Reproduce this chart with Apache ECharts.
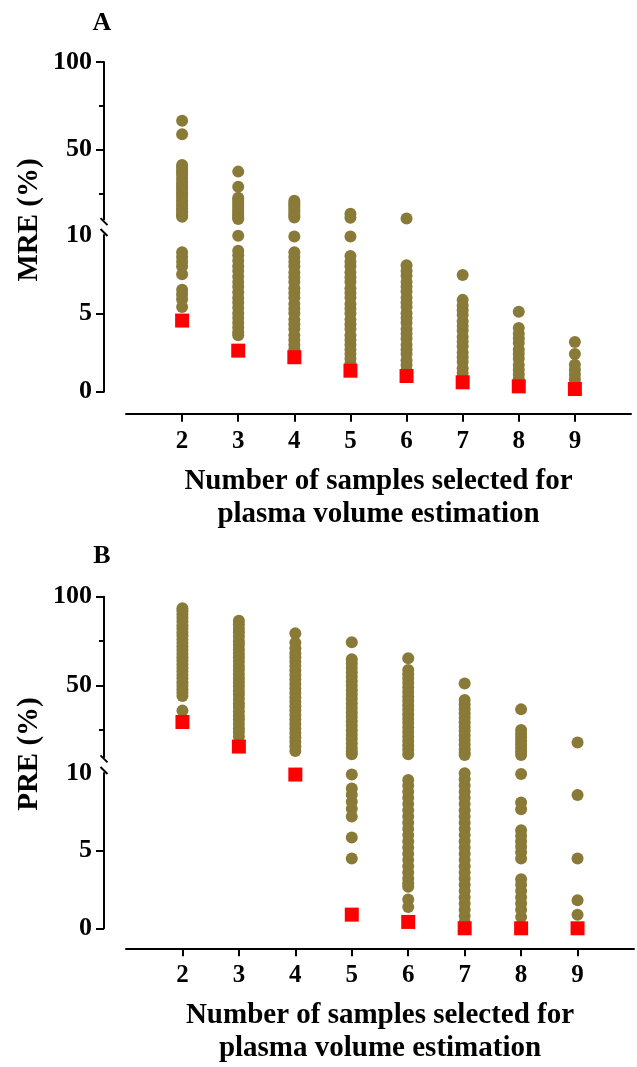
<!DOCTYPE html>
<html>
<head>
<meta charset="utf-8">
<style>
  html, body { margin: 0; padding: 0; background: #fff; }
  #chart { width: 637px; height: 1067px; }
</style>
<script src="https://cdn.jsdelivr.net/npm/echarts@6/dist/echarts.min.js"></script>
</head>
<body>
<div id="chart"></div>
<script>
  // number of samples on the x axis
  const categories = [2, 3, 4, 5, 6, 7, 8, 9]

  // panel A: MRE (%) of every sample combination, per number of samples
  const mre2 = [66.5, 58.7, 41.2, 40, 38.5, 37, 35.5, 33.5, 31.5, 30, 28.5, 27, 25.5, 24, 22.5, 21, 19.5, 18, 16.5, 15, 13.8, 12.5, 11.6, 8.9, 8.6, 8.3, 8.0, 7.5, 6.5, 6.2, 5.9, 5.4]
  const mre3 = [37.4, 28.8, 22.5, 21.3, 20, 18.6, 17.2, 15.8, 14.5, 13.2, 12, 11, 10.4, 9.95, 9.0, 8.7, 8.35, 8.0, 7.7, 7.35, 7.0, 6.7, 6.35, 6.0, 5.7, 5.35, 5.0, 4.7, 4.4, 4.1, 3.8, 3.6]
  const mre4 = [20.8, 19.4, 18, 16.6, 15.2, 13.8, 12.4, 11.2, 9.9, 8.9, 8.6, 8.3, 8.0, 7.6, 7.3, 7.0, 6.6, 6.3, 6.0, 5.6, 5.3, 5.0, 4.6, 4.3, 4.0, 3.6, 3.3, 3.0, 2.7, 2.45]
  const mre5 = [13.4, 11.0, 9.9, 8.66, 8.3, 8.0, 7.6, 7.3, 7.0, 6.6, 6.3, 6.0, 5.6, 5.3, 5.0, 4.6, 4.3, 4.0, 3.6, 3.3, 3.0, 2.7, 2.4, 2.1, 1.8, 1.55]
  const mre6 = [10.6, 8.07, 7.7, 7.4, 7.0, 6.7, 6.4, 6.0, 5.7, 5.4, 5.0, 4.7, 4.4, 4.0, 3.7, 3.4, 3.0, 2.7, 2.4, 2.0, 1.7, 1.35]
  const mre7 = [7.45, 5.86, 5.5, 5.2, 4.9, 4.5, 4.2, 3.9, 3.5, 3.2, 2.9, 2.5, 2.2, 1.9, 1.5, 1.2, 0.9]
  const mre8 = [5.1, 4.06, 3.7, 3.4, 3.1, 2.7, 2.4, 2.1, 1.7, 1.4, 1.1, 0.8, 0.55]
  const mre9 = [3.17, 2.4, 1.72, 1.4, 1.1, 0.8, 0.5]
  // best combination (red squares)
  const mreBest = [4.54, 2.62, 2.2, 1.34, 1.0, 0.6, 0.34, 0.17]

  // panel B: PRE (%)
  const pre2 = [93.5, 92, 90, 88, 86, 84, 82, 80, 78, 76, 74, 72, 70, 68, 66, 64, 62, 60, 58, 56, 54, 52, 50, 48, 46, 44.2, 36]
  const pre3 = [86.5, 84.5, 82, 80, 77.5, 75, 73, 70.5, 68, 66, 63.5, 61, 59, 56.5, 54, 52, 49.5, 47, 45, 42.5, 40, 38, 35.5, 33, 31, 28.5, 26, 24, 21.5]
  const pre4 = [79.4, 74.2, 71, 68.2, 66, 63.5, 61, 58.5, 56, 53.5, 51, 48.5, 46, 43.5, 41, 38.5, 36, 33.5, 31, 28.5, 26, 23.5, 21, 18.5, 16, 13.3]
  const pre5 = [74.4, 64.8, 62.5, 60, 57.5, 55, 52.5, 50, 47.5, 45, 42.5, 40, 37.5, 35, 32.5, 30, 27.5, 25, 22.5, 20, 17.5, 15, 13, 11.5, 9.9, 9.0, 8.6, 8.15, 7.7, 7.2, 5.85, 4.5]
  const pre6 = [65.4, 58.8, 56.5, 54, 51.5, 49, 46.5, 44, 41.5, 39, 36.5, 34, 31.5, 29, 26.5, 24, 21.5, 19, 16.5, 14, 11.5, 9.55, 9.2, 8.8, 8.4, 8.0, 7.6, 7.2, 6.8, 6.4, 6.0, 5.6, 5.2, 4.8, 4.4, 4.0, 3.6, 3.2, 2.9, 2.67, 1.85, 1.37]
  const pre7 = [51.3, 42, 39.5, 37, 34.5, 32, 29.5, 27, 24.5, 22, 19.5, 17, 14.5, 12.5, 11.1, 9.98, 9.6, 9.2, 8.8, 8.4, 8.0, 7.6, 7.2, 6.8, 6.4, 6.0, 5.6, 5.2, 4.8, 4.4, 4.0, 3.6, 3.2, 2.8, 2.4, 2.0, 1.6, 1.2, 0.8, 0.4]
  const pre8 = [36.7, 25.1, 23, 21, 19, 17, 15, 13, 11.1, 9.93, 8.1, 7.66, 6.32, 5.95, 5.6, 5.25, 4.9, 4.5, 3.16, 2.8, 2.4, 2.0, 1.6, 1.2, 0.73]
  const pre9 = [18.1, 8.58, 4.5, 1.81, 0.88]
  const preBest = [29.6, 15.8, 9.9, 0.88, 0.41, 0, 0, 0]

  // axis break: upper segment 10-100, lower segment 0-10
  const upperTicks = [50, 100]
  const upperMinorTicks = [25, 75]
  const lowerTicks = [0, 5]
  const lowerLabels = [0, 5, 10]
  const BREAK = 10

  const FONT = '"Liberation Serif", "Times New Roman", serif'
  const DOT = '#8a7a38'
  const BEST = '#ff0000'
  const AXIS_X = 104
  const GRID_LEFT = 126

  // 面板布局
  const panels = [
    { letter: 'A', yName: 'MRE (%)', cols: [mre2, mre3, mre4, mre5, mre6, mre7, mre8, mre9], best: mreBest,
      top: 62, upperH: 157.6, lowerTop: 235, lowerH: 156.7, right: 6, xOffset: 22, letterY: 23.5, nameY: 220 },
    { letter: 'B', yName: 'PRE (%)', cols: [pre2, pre3, pre4, pre5, pre6, pre7, pre8, pre9], best: preBest,
      top: 596.7, upperH: 160.2, lowerTop: 773, lowerH: 155.3, right: 3, xOffset: 20, letterY: 556.5, nameY: 754 }
  ]

  const black = { color: '#000', width: 2 }
  const labelStyle = { color: '#000', fontFamily: FONT, fontWeight: 'bold' }

  const grid = []
  const xAxis = []
  const yAxis = []
  const series = []
  const graphic = []

  /** 拆分成上下两段 */
  const split = (list, upper) => {
    const out = []
    list.forEach((vals, i) => {
      const arr = Array.isArray(vals) ? vals : [vals]
      arr.forEach((v) => {
        if (upper ? v > BREAK : v <= BREAK) out.push([categories[i], v])
      })
    })
    return out
  }

  panels.forEach((p, i) => {
    grid.push({ left: GRID_LEFT, right: p.right, top: p.top, height: p.upperH })
    grid.push({ left: GRID_LEFT, right: p.right, top: p.lowerTop, height: p.lowerH })

    xAxis.push({ gridIndex: 2 * i, type: 'value', min: 1, max: 10, show: false })
    xAxis.push({
      gridIndex: 2 * i + 1,
      type: 'value',
      min: 1,
      max: 10,
      offset: p.xOffset,
      axisLine: { onZero: false, lineStyle: black },
      axisTick: { customValues: categories, length: 8, lineStyle: black },
      axisLabel: { customValues: categories, fontSize: 25, margin: 15, ...labelStyle },
      splitLine: { show: false },
      name: 'Number of samples selected for\nplasma volume estimation',
      nameLocation: 'middle',
      nameGap: 51,
      nameTextStyle: { fontSize: 29, lineHeight: 33, ...labelStyle }
    })

    const yBase = {
      type: 'value',
      position: 'left',
      offset: GRID_LEFT - AXIS_X,
      splitLine: { show: false },
      axisLine: { show: true, onZero: false, lineStyle: black }
    }
    yAxis.push({
      ...yBase,
      gridIndex: 2 * i,
      min: BREAK,
      max: 100,
      axisTick: { customValues: upperTicks, length: 8, lineStyle: black },
      axisLabel: { customValues: upperTicks, fontSize: 26, margin: 12, padding: [4, 0, 0, 0], ...labelStyle }
    })
    yAxis.push({
      ...yBase,
      gridIndex: 2 * i,
      min: BREAK,
      max: 100,
      axisLine: { show: false },
      axisTick: { customValues: upperMinorTicks, length: 5, lineStyle: black },
      axisLabel: { show: false }
    })
    yAxis.push({
      ...yBase,
      gridIndex: 2 * i + 1,
      min: 0,
      max: BREAK,
      axisTick: { customValues: lowerTicks, length: 8, lineStyle: black },
      axisLabel: { customValues: lowerLabels, fontSize: 26, margin: 12, padding: [2, 0, 0, 0], ...labelStyle }
    })

    const dotStyle = { type: 'scatter', symbol: 'circle', symbolSize: 12, itemStyle: { color: DOT, opacity: 1 }, clip: false, z: 2 }
    const bestStyle = { type: 'scatter', symbol: 'rect', symbolSize: 14, itemStyle: { color: BEST, opacity: 1 }, clip: false, z: 3 }
    series.push({ ...dotStyle, xAxisIndex: 2 * i, yAxisIndex: 3 * i, data: split(p.cols, true) })
    series.push({ ...dotStyle, xAxisIndex: 2 * i + 1, yAxisIndex: 3 * i + 2, data: split(p.cols, false) })
    series.push({ ...bestStyle, xAxisIndex: 2 * i, yAxisIndex: 3 * i, data: split(p.best, true) })
    series.push({ ...bestStyle, xAxisIndex: 2 * i + 1, yAxisIndex: 3 * i + 2, data: split(p.best, false) })

    // 断轴标记
    const upperEnd = p.top + p.upperH
    ;[upperEnd + 2, p.lowerTop - 2.5].forEach((cy) => {
      graphic.push({
        type: 'line',
        shape: { x1: AXIS_X - 3.5, y1: cy - 3.5, x2: AXIS_X + 3.5, y2: cy + 3.5 },
        style: { stroke: '#000', lineWidth: 2 },
        z: 10
      })
    })

    graphic.push({
      type: 'text',
      x: 102,
      y: p.letterY,
      style: { text: p.letter, font: 'bold 26px ' + FONT, fill: '#000', align: 'center', verticalAlign: 'middle' }
    })
    graphic.push({
      type: 'text',
      x: 30,
      y: p.nameY,
      rotation: Math.PI / 2,
      style: { text: p.yName, font: 'bold 29px ' + FONT, fill: '#000', align: 'center', verticalAlign: 'middle' }
    })
  })

  const chartDom = echarts.init(document.getElementById('chart'), null, { renderer: 'canvas' })
  chartDom.setOption({
    animation: false,
    backgroundColor: '#fff',
    grid,
    xAxis,
    yAxis,
    series,
    graphic
  })
</script>
</body>
</html>
